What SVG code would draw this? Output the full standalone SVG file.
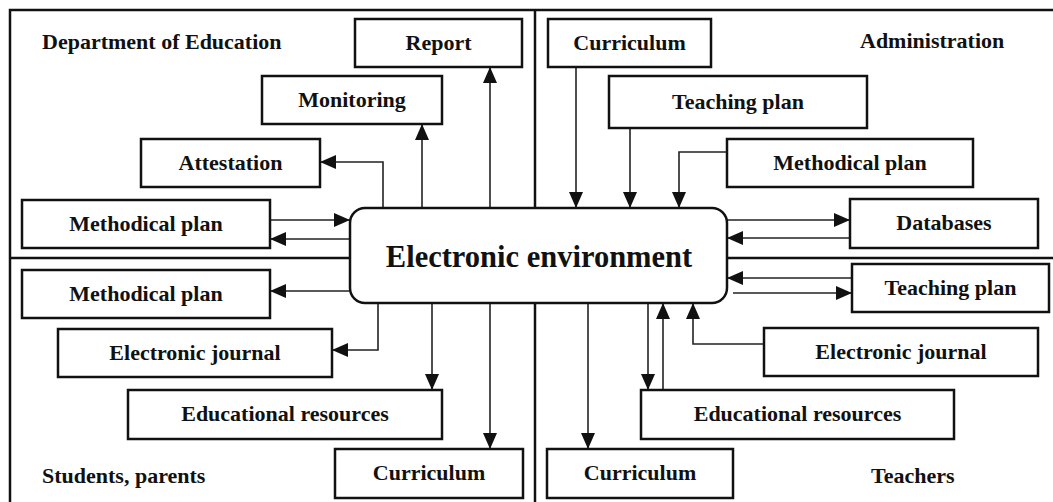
<svg xmlns="http://www.w3.org/2000/svg" width="1053" height="502" viewBox="0 0 1053 502">
<style>
  .box { fill: #fff; stroke: #111; stroke-width: 2.5; }
  .frame { fill: none; stroke: #111; stroke-width: 2.5; }
  .conn { fill: none; stroke: #222; stroke-width: 1.6; marker-end: url(#arr); }
  text { font-family: "Liberation Serif", "Times New Roman", serif; font-weight: bold; font-size: 22px; fill: #111; }
  .c { text-anchor: middle; }
  .big { font-size: 30.5px; }
</style>
<defs>
  <marker id="arr" markerUnits="userSpaceOnUse" markerWidth="17" markerHeight="15" refX="16" refY="7" orient="auto">
    <path d="M0,0 L16,7 L0,14 z" fill="#111"/>
  </marker>
</defs>
<rect width="1053" height="502" fill="#fff"/>
<g id="frame">
  <path class="frame" d="M10,502 V10 H1053"/>
  <path class="frame" d="M535,10 V208"/>
  <path class="frame" d="M535,303 V502"/>
  <path class="frame" d="M10,258 H350"/>
  <path class="frame" d="M727,258 H1053"/>
</g>
<g id="labels">
  <text x="42" y="49">Department of Education</text>
  <text x="860" y="48">Administration</text>
  <text x="42" y="483">Students, parents</text>
  <text x="871" y="483">Teachers</text>
</g>
<g id="connectors">
  <path class="conn" d="M490,208 V67"/>
  <path class="conn" d="M422,208 V124"/>
  <path class="conn" d="M383,208 V162 H320"/>
  <path class="conn" d="M270,220 H350"/>
  <path class="conn" d="M350,239 H270"/>
  <path class="conn" d="M576,67 V208"/>
  <path class="conn" d="M630,128 V208"/>
  <path class="conn" d="M727,152 H679 V208"/>
  <path class="conn" d="M727,220 H850"/>
  <path class="conn" d="M850,238 H727"/>
  <path class="conn" d="M350,291 H270"/>
  <path class="conn" d="M378,303 V350 H332"/>
  <path class="conn" d="M432,303 V390"/>
  <path class="conn" d="M490,303 V449"/>
  <path class="conn" d="M852,278 H727"/>
  <path class="conn" d="M733,293 H852"/>
  <path class="conn" d="M764,344 H693 V303"/>
  <path class="conn" d="M648,303 V390"/>
  <path class="conn" d="M663,390 V303"/>
  <path class="conn" d="M588,303 V449"/>
</g>
<g id="center">
  <rect class="box" x="350" y="208" width="377" height="95" rx="15"/>
  <text class="c big" x="539" y="267">Electronic environment</text>
</g>
<g id="report"><rect class="box" x="355" y="19" width="167" height="48"/><text class="c" x="438.5" y="50">Report</text></g>
<g id="monitoring"><rect class="box" x="262" y="76" width="180" height="48"/><text class="c" x="352" y="107">Monitoring</text></g>
<g id="attestation"><rect class="box" x="141" y="139" width="179" height="48"/><text class="c" x="230.5" y="170">Attestation</text></g>
<g id="methodical-tl"><rect class="box" x="22" y="200" width="248" height="48"/><text class="c" x="146" y="231">Methodical plan</text></g>
<g id="curriculum-tr"><rect class="box" x="548" y="19" width="163" height="48"/><text class="c" x="629.5" y="50">Curriculum</text></g>
<g id="teaching-tr"><rect class="box" x="609" y="76" width="258" height="52"/><text class="c" x="738" y="109">Teaching plan</text></g>
<g id="methodical-tr"><rect class="box" x="727" y="139" width="246" height="48"/><text class="c" x="850" y="170">Methodical plan</text></g>
<g id="databases"><rect class="box" x="850" y="199" width="188" height="49"/><text class="c" x="944" y="230">Databases</text></g>
<g id="methodical-bl"><rect class="box" x="22" y="270" width="248" height="48"/><text class="c" x="146" y="301">Methodical plan</text></g>
<g id="journal-bl"><rect class="box" x="58" y="329" width="274" height="48"/><text class="c" x="195" y="360">Electronic journal</text></g>
<g id="resources-bl"><rect class="box" x="128" y="390" width="314" height="49"/><text class="c" x="285" y="421">Educational resources</text></g>
<g id="curriculum-bl"><rect class="box" x="335" y="449" width="188" height="49"/><text class="c" x="429" y="480">Curriculum</text></g>
<g id="teaching-br"><rect class="box" x="852" y="264" width="197" height="48"/><text class="c" x="950.5" y="295">Teaching plan</text></g>
<g id="journal-br"><rect class="box" x="764" y="328" width="274" height="48"/><text class="c" x="901" y="359">Electronic journal</text></g>
<g id="resources-br"><rect class="box" x="641" y="390" width="313" height="49"/><text class="c" x="797.5" y="421">Educational resources</text></g>
<g id="curriculum-br"><rect class="box" x="547" y="449" width="186" height="49"/><text class="c" x="640" y="480">Curriculum</text></g>
</svg>
